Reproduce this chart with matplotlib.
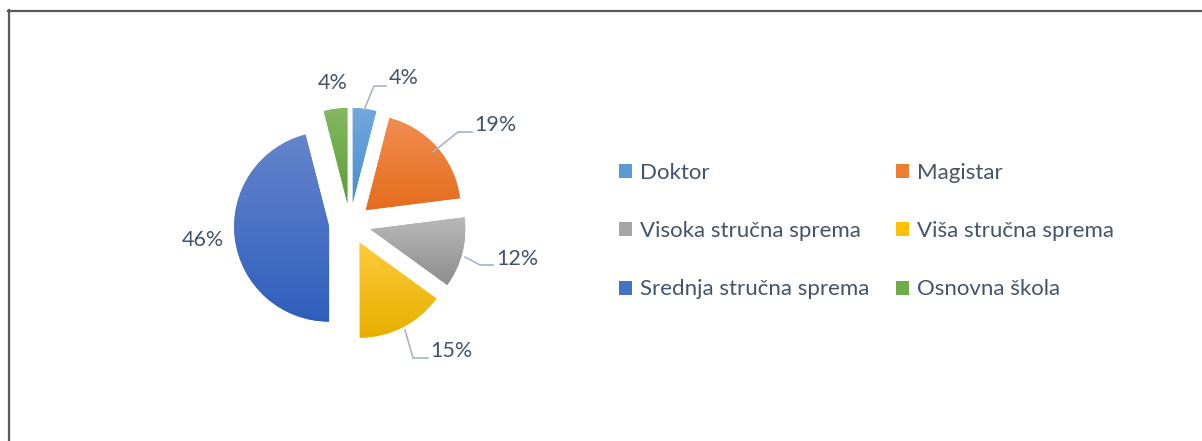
import numpy as np
import matplotlib.pyplot as plt
from matplotlib.patches import Patch
from matplotlib.lines import Line2D
from matplotlib.colors import to_rgb

W, H = 1202, 441

labels = ['Doktor', 'Magistar', 'Visoka stručna sprema', 'Viša stručna sprema',
          'Srednja stručna sprema', 'Osnovna škola']
shares = [4, 19, 12, 15, 46, 4]
colors = ['#5B9BD5', '#ED7D31', '#A5A5A5', '#FFC000', '#4472C4', '#70AD47']
# top / bottom shades for the slice gradients
tops = ['#72A9DE', '#F28E52', '#B9B9B9', '#FFCB3A', '#6585CC', '#84B964']
bottoms = ['#4A8DD0', '#E56C1C', '#8E8E8E', '#E6B000', '#2E5EBC', '#5C9E35']

text_color = '#44546A'
leader_color = '#A6B4C8'
font = 'Lato'

fig = plt.figure(figsize=(W / 100, H / 100), dpi=100)
ax = fig.add_axes([0, 0, 1, 1])

# explode is in data units here (pixels)
cx, cy, r = 350, H - 224, 95
wedges, _ = ax.pie(shares, colors=colors, startangle=90, counterclock=False,
                   explode=[21] * len(shares), center=(cx, cy), radius=r,
                   wedgeprops=dict(linewidth=0))

# vertical gradient inside each slice
grad = np.linspace(0, 1, 256)[:, None]
for w, top, bot in zip(wedges, tops, bottoms):
    ext = w.get_path().get_extents()
    c0, c1 = np.array(to_rgb(top)), np.array(to_rgb(bot))
    img = c0 + (c1 - c0) * grad[..., None]
    img = np.repeat(img, 2, axis=1)
    im = ax.imshow(img, extent=(ext.x0, ext.x1, ext.y0, ext.y1),
                   origin='upper', aspect='auto', zorder=w.get_zorder() + 0.1)
    im.set_clip_path(w)

# percentage labels, with leader lines where the label sits away from the slice
label_pos = [(404, 78), (495, 125), (517, 259), (451, 351), (203, 240), (333, 83)]
leaders = [
    [(364, 110), (374, 86), (386, 86)],
    [(433, 152), (458, 132), (472, 132)],
    [(465, 257), (480, 265), (493, 265)],
    [(405, 330), (413, 358), (428, 358)],
    None,
    None,
]
for val, (x, y), pts in zip(shares, label_pos, leaders):
    ax.text(x, H - y, f'{val}%', ha='center', va='center', fontsize=15.5,
            color=text_color, family=font, zorder=5)
    if pts:
        xs = [p[0] for p in pts]
        ys = [H - p[1] for p in pts]
        ax.plot(xs, ys, color=leader_color, lw=1.2, zorder=4)

ax.set_xlim(0, W)
ax.set_ylim(0, H)
ax.set_aspect('equal')
ax.axis('off')

# legend laid out row by row in two columns
handles = [Patch(facecolor=c, edgecolor='none') for c in colors]
order = [0, 2, 4, 1, 3, 5]
leg = fig.legend([handles[i] for i in order], [labels[i] for i in order],
                 ncol=2, loc='upper left', bbox_to_anchor=(599 / W, 1 - 143 / H),
                 frameon=False, handlelength=0.6, handleheight=0.6,
                 handletextpad=0.35, columnspacing=1.2, labelspacing=1.72,
                 prop=dict(family=font, size=16))
for t in leg.get_texts():
    t.set_color(text_color)

# chart frame
fig.add_artist(Line2D([9 / W, 9 / W], [0, 1 - 10 / H], transform=fig.transFigure,
                      color='#595959', lw=1.6))
fig.add_artist(Line2D([8 / W, 1], [1 - 10.5 / H, 1 - 10.5 / H],
                      transform=fig.transFigure, color='#595959', lw=1.6))

fig.savefig('out.png', dpi=100)
